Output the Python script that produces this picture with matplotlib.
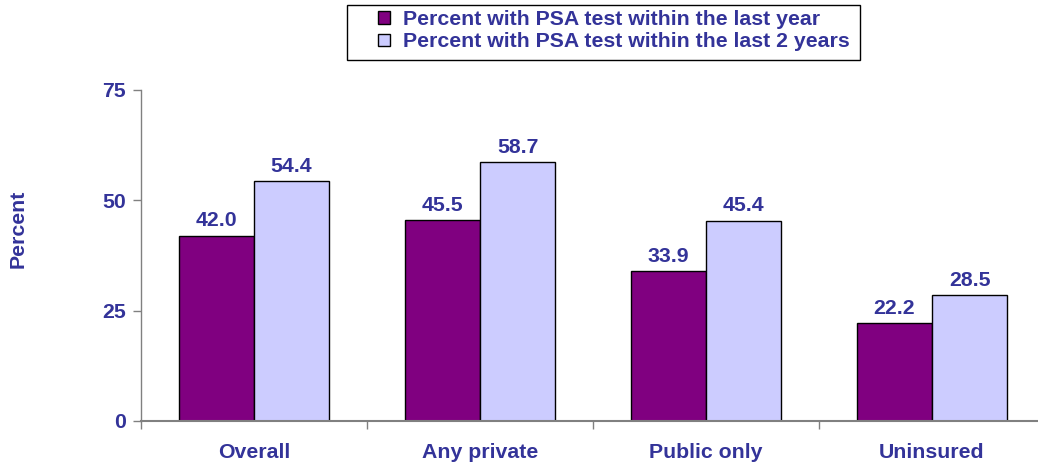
import matplotlib.pyplot as plt
import numpy as np
from matplotlib.patches import Patch, Rectangle

plt.rcParams['font.family'] = ['Liberation Sans', 'DejaVu Sans']
plt.rcParams['font.weight'] = 'bold'

categories = ['Overall', 'Any private', 'Public only', 'Uninsured']
last_year = [42.0, 45.5, 33.9, 22.2]
last_2_years = [54.4, 58.7, 45.4, 28.5]
series_names = ['Percent with PSA test within the last year',
                'Percent with PSA test within the last 2 years']
y_ticks = [0, 25, 50, 75]

text_col = '#333399'
c1 = '#800080'
c2 = '#CCCCFF'
fs = 15.3

W, H = 1038, 470
fig = plt.figure(figsize=(W / 100, H / 100), dpi=100)
# 轴区域（按像素位置）
left, right, top, bottom = 141, 1038, 90, 421
ax = fig.add_axes([left / W, (H - bottom) / H, (right - left) / W, (bottom - top) / H])

group_px = 226.0
x = np.arange(len(categories))
bw = 75 / group_px
b1 = ax.bar(x - bw / 2, last_year, bw, color=c1, edgecolor='black', linewidth=1)
b2 = ax.bar(x + bw / 2, last_2_years, bw, color=c2, edgecolor='black', linewidth=1)

for bars in (b1, b2):
    for bar in bars:
        h = bar.get_height()
        ax.text(bar.get_x() + bar.get_width() / 2, h + 1.2, f'{h:.1f}',
                ha='center', va='bottom', color=text_col, fontsize=fs, fontweight='bold')

ax.set_xlim(-0.5, -0.5 + (right - left) / group_px)
ax.set_ylim(0, 75)
ax.set_yticks(y_ticks)
ax.set_xticks(x)
ax.set_xticklabels(categories)
ax.set_xticks(np.arange(len(categories)) - 0.5, minor=True)
ax.tick_params(axis='x', which='major', length=0, pad=16, labelsize=fs, labelcolor=text_col)
ax.tick_params(axis='x', which='minor', length=6, width=1, color='#808080', direction='out')
ax.tick_params(axis='y', length=6, width=1, color='#808080', pad=5, labelsize=fs, labelcolor=text_col)
for lab in ax.get_xticklabels() + ax.get_yticklabels():
    lab.set_fontweight('bold')

for s in ('top', 'right'):
    ax.spines[s].set_visible(False)
ax.spines['left'].set_color('#808080')
ax.spines['bottom'].set_color('#808080')
ax.spines['left'].set_linewidth(1)
ax.spines['bottom'].set_linewidth(1.5)

fig.text(18 / W, 1 - 229 / H, 'Percent', rotation=90, ha='center', va='center',
         color=text_col, fontsize=fs, fontweight='bold')

# 图例外框
fig.patches.append(Rectangle((347 / W, 1 - 60 / H), (860 - 347) / W, 55 / H,
                             transform=fig.transFigure, facecolor='white',
                             edgecolor='black', linewidth=1))
handles = [Patch(facecolor=c1, edgecolor='black', linewidth=1),
           Patch(facecolor=c2, edgecolor='black', linewidth=1)]
leg = fig.legend(handles, series_names, loc='upper left',
                 bbox_to_anchor=(374 / W, 1 - 6 / H), frameon=False,
                 prop={'size': fs, 'weight': 'bold'}, handlelength=0.55, handleheight=0.55,
                 handletextpad=0.6, labelspacing=0.15, borderpad=0.2, borderaxespad=0)
for t in leg.get_texts():
    t.set_color(text_col)

plt.savefig('out.png', dpi=100)
